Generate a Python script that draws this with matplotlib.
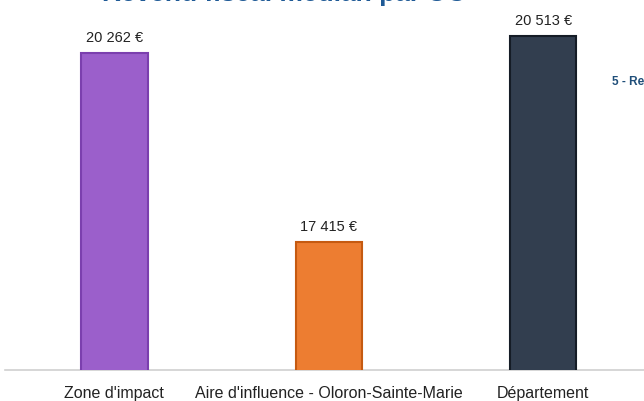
import matplotlib
matplotlib.use("Agg")
import matplotlib.pyplot as plt

categories = ["Zone d'impact", "Aire d'influence - Oloron-Sainte-Marie", "Département"]
values = [20262, 17415, 20513]
value_labels = ["20 262 €", "17 415 €", "20 513 €"]
colors = ["#9b5fcb", "#ed7d31", "#323e4f"]
edges = ["#7b3fae", "#c55a11", "#151c26"]
title = "Revenu fiscal médian par UC"

plt.rcParams['font.family'] = ['Liberation Sans', 'DejaVu Sans']

fig = plt.figure(figsize=(6.44, 4.01), dpi=100)
ax = fig.add_axes([5/644, 1 - 370/401, 639/644, 370/401])
x = list(range(len(categories)))
ax.bar(x, values, width=0.31, color=colors, edgecolor=edges, linewidth=1.5, zorder=3)
ax.set_xlim(-0.51, 2.47)
ax.set_ylim(15490, 21054)
for xi, v, lab in zip(x, values, value_labels):
    ax.annotate(lab, (xi, v), xytext=(0, 5.5), textcoords="offset points",
                ha="center", va="bottom", fontsize=10.5, color="#222222")
for s in ["top", "right", "left"]:
    ax.spines[s].set_visible(False)
ax.spines["bottom"].set_color("#d0d0d0")
ax.spines["bottom"].set_linewidth(1.2)
ax.set_yticks([])
ax.set_xticks(x)
ax.set_xticklabels(categories, fontsize=11.5, color="#222222")
ax.tick_params(axis="x", length=0, pad=11.5)

fig.text(284/644, 1 - 1.2/401, title, ha="center", va="baseline",
         fontsize=19, fontweight="bold", color="#1f5a96")
fig.text(612/644, 1 - 82/401, "5 - Revenu", ha="left", va="center",
         fontsize=8.5, fontweight="bold", color="#1f4e79")

fig.savefig("out.png", dpi=100)
